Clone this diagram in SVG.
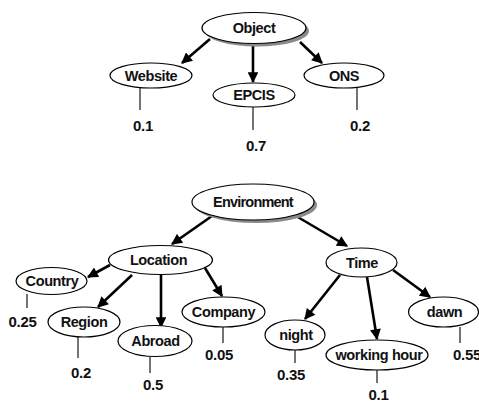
<svg xmlns="http://www.w3.org/2000/svg" width="479" height="402" viewBox="0 0 479 402">
<style>
.n{fill:#fff;stroke:#000;stroke-width:1.2}
.sh{fill:#8a8a8a}
.t{font-family:"Liberation Sans",Arial,sans-serif;font-weight:bold;font-size:14.5px;letter-spacing:-0.4px;text-anchor:middle;fill:#111}
.v{font-family:"Liberation Sans",Arial,sans-serif;font-weight:bold;font-size:15px;letter-spacing:-0.3px;text-anchor:middle;fill:#111}
.a{stroke:#000;stroke-width:2.6;fill:none;marker-end:url(#ah)}
.l{stroke:#000;stroke-width:1.1}
</style>
<defs>
<marker id="ah" viewBox="0 0 10 10" refX="9" refY="5" markerWidth="4.5" markerHeight="4.2" orient="auto" markerUnits="strokeWidth">
<path d="M0,0 L10,5 L0,10 z" fill="#000"/>
</marker>
</defs>
<g id="connectors">
<line class="a" x1="210" y1="39" x2="182" y2="63"/>
<line class="a" x1="253" y1="43" x2="253" y2="82"/>
<line class="a" x1="300" y1="42" x2="322" y2="63"/>
<line class="a" x1="212" y1="216" x2="172" y2="244"/>
<line class="a" x1="296" y1="216" x2="347" y2="246"/>
<line class="a" x1="110" y1="265" x2="88" y2="277"/>
<line class="a" x1="132" y1="275" x2="98" y2="307"/>
<line class="a" x1="161" y1="275" x2="161" y2="327"/>
<line class="a" x1="205" y1="268" x2="222" y2="296"/>
<line class="a" x1="340" y1="275" x2="305" y2="319"/>
<line class="a" x1="367" y1="277" x2="377" y2="339"/>
<line class="a" x1="393" y1="270" x2="430" y2="297"/>
<line class="l" x1="140" y1="88" x2="140" y2="110"/>
<line class="l" x1="253" y1="107" x2="253" y2="130"/>
<line class="l" x1="357" y1="88" x2="357" y2="110"/>
<line class="l" x1="27" y1="294" x2="27" y2="308"/>
<line class="l" x1="78" y1="337" x2="78" y2="358"/>
<line class="l" x1="150" y1="357" x2="150" y2="373"/>
<line class="l" x1="223" y1="327" x2="223" y2="343"/>
<line class="l" x1="295" y1="350" x2="295" y2="363"/>
<line class="l" x1="377" y1="370" x2="377" y2="383"/>
<line class="l" x1="460" y1="327" x2="460" y2="343"/>
</g>
<g id="object">
<ellipse class="sh" cx="257" cy="31" rx="52" ry="15.5"/>
<ellipse class="n" cx="254" cy="28" rx="52" ry="15.5"/>
<text class="t" x="254" y="33">Object</text>
</g>
<g id="website">
<ellipse class="n" cx="151" cy="75.5" rx="41" ry="12.5"/>
<text class="t" x="151" y="80.5">Website</text>
<text class="v" x="143" y="131">0.1</text>
</g>
<g id="epcis">
<ellipse class="n" cx="254" cy="95" rx="41" ry="12"/>
<text class="t" x="254" y="100">EPCIS</text>
<text class="v" x="256" y="151">0.7</text>
</g>
<g id="ons">
<ellipse class="n" cx="344" cy="75.5" rx="40" ry="12.5"/>
<text class="t" x="344" y="80.5">ONS</text>
<text class="v" x="360" y="131">0.2</text>
</g>
<g id="environment">
<ellipse class="sh" cx="256" cy="205" rx="61" ry="18"/>
<ellipse class="n" cx="253" cy="202" rx="61" ry="18"/>
<text class="t" x="253" y="207" style="letter-spacing:-0.8px">Environment</text>
</g>
<g id="location">
<ellipse class="n" cx="160.5" cy="260" rx="52" ry="14.5"/>
<text class="t" x="158.5" y="265">Location</text>
</g>
<g id="country">
<ellipse class="n" cx="51.5" cy="281" rx="35.5" ry="13.5"/>
<text class="t" x="52" y="286">Country</text>
<text class="v" x="22.5" y="327">0.25</text>
</g>
<g id="region">
<ellipse class="n" cx="84" cy="322" rx="36" ry="15"/>
<text class="t" x="84" y="327">Region</text>
<text class="v" x="81" y="378">0.2</text>
</g>
<g id="abroad">
<ellipse class="n" cx="155" cy="341" rx="37" ry="15.5"/>
<text class="t" x="155.5" y="346">Abroad</text>
<text class="v" x="153" y="390">0.5</text>
</g>
<g id="company">
<ellipse class="n" cx="223.5" cy="312" rx="41.5" ry="15"/>
<text class="t" x="223.5" y="317">Company</text>
<text class="v" x="219" y="360">0.05</text>
</g>
<g id="time">
<ellipse class="n" cx="361.5" cy="262.5" rx="35.5" ry="14.5"/>
<text class="t" x="362" y="267.5">Time</text>
</g>
<g id="night">
<ellipse class="n" cx="295" cy="335" rx="30" ry="15"/>
<text class="t" x="296" y="340">night</text>
<text class="v" x="291" y="380">0.35</text>
</g>
<g id="working-hour">
<ellipse class="n" cx="377" cy="355" rx="51" ry="15"/>
<text class="t" x="379" y="360">working hour</text>
<text class="v" x="378.5" y="400">0.1</text>
</g>
<g id="dawn">
<ellipse class="n" cx="443.5" cy="312" rx="35" ry="15"/>
<text class="t" x="444.5" y="317">dawn</text>
<text class="v" x="453" y="360" style="text-anchor:start">0.55</text>
</g>
</svg>
